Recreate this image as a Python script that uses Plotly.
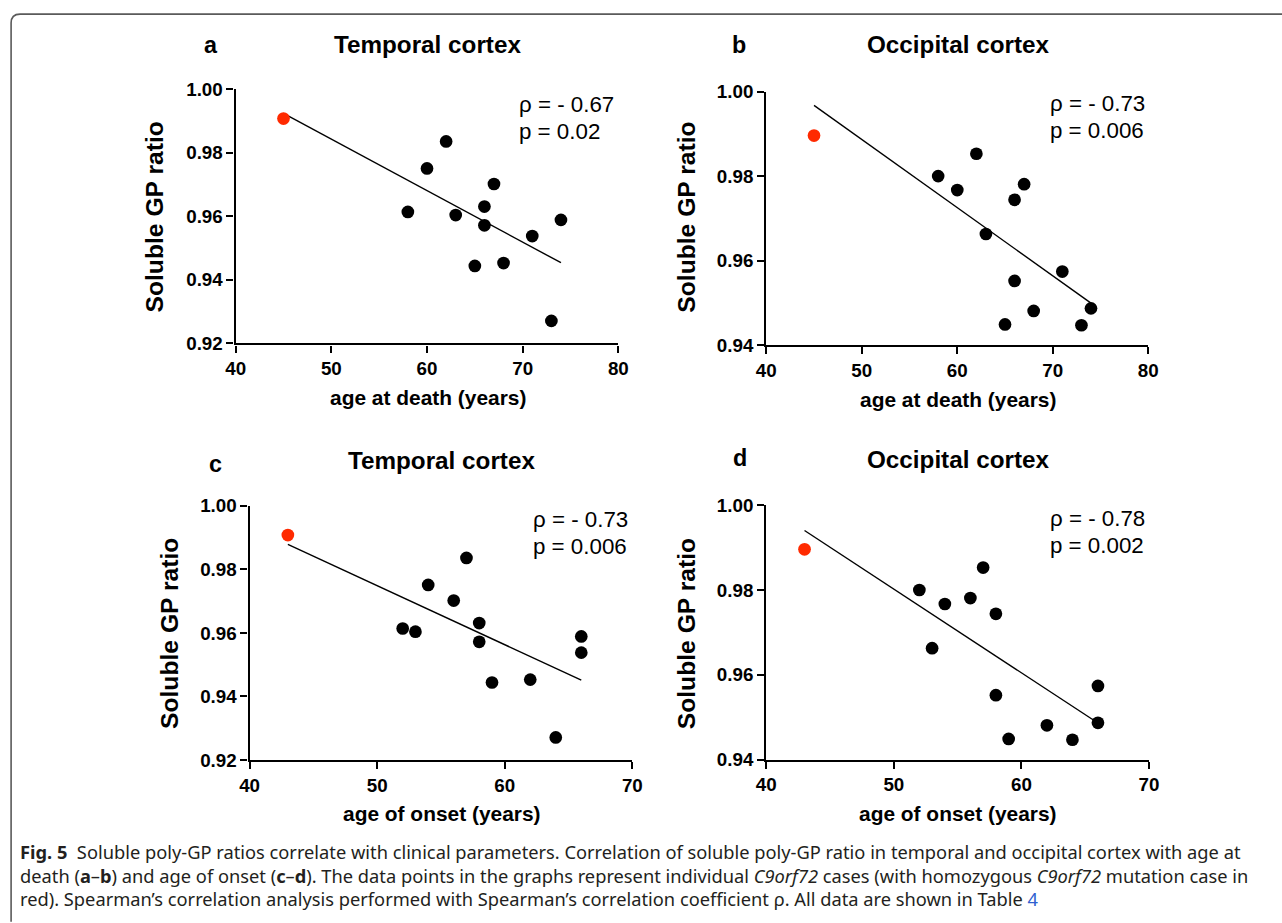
import numpy as np
import plotly.graph_objects as go

# ---------------- data ----------------
age_at_death = [45, 58, 60, 62, 63, 65, 66, 66, 67, 68, 71, 73, 74]
age_of_onset = [43, 52, 54, 57, 53, 59, 58, 58, 56, 62, 66, 64, 66]
temporal_ratio = [0.9908, 0.9614, 0.9751, 0.9836, 0.9604, 0.9444, 0.9631,
                  0.9572, 0.9702, 0.9453, 0.9538, 0.9271, 0.9589]
occipital_ratio = [0.9896, 0.9800, 0.9767, 0.9853, 0.9663, 0.9449, 0.9744,
                   0.9552, 0.9781, 0.9481, 0.9574, 0.9447, 0.9487]
homozygous = [True] + [False] * 12

panel_letters = ["a", "b", "c", "d"]
panel_titles = ["Temporal cortex", "Occipital cortex", "Temporal cortex", "Occipital cortex"]
x_titles = ["age at death (years)", "age at death (years)", "age of onset (years)", "age of onset (years)"]
rho_texts = ["ρ = - 0.67", "ρ = - 0.73", "ρ = - 0.73", "ρ = - 0.78"]
p_texts = ["p = 0.02", "p = 0.006", "p = 0.006", "p = 0.002"]
x_ticks = [[40, 50, 60, 70, 80], [40, 50, 60, 70, 80], [40, 50, 60, 70], [40, 50, 60, 70]]
y_ticks = [[0.92, 0.94, 0.96, 0.98, 1.00], [0.94, 0.96, 0.98, 1.00],
           [0.92, 0.94, 0.96, 0.98, 1.00], [0.94, 0.96, 0.98, 1.00]]

caption_lines = [
    "<b>Fig. 5</b>  Soluble poly-GP ratios correlate with clinical parameters. Correlation of soluble poly-GP ratio in temporal and occipital cortex with age at",
    "death (<b>a</b>–<b>b</b>) and age of onset (<b>c</b>–<b>d</b>). The data points in the graphs represent individual <i>C9orf72</i> cases (with homozygous <i>C9orf72</i> mutation case in",
    "red). Spearman’s correlation analysis performed with Spearman’s correlation coefficient ρ. All data are shown in Table <span style='color:#2f5fd0'>4</span>",
]

# ---------------- layout geometry ----------------
W, H = 1282, 923
# the photographed page shows the figure offset by the page margin and slightly
# reduced; target positions (in photo pixels) are mapped back to paper units.
OX, OY, SX, SY = 7.9, 7.9, 0.9877, 0.983
FS = 1 / 0.985   # font/marker compensation

panels = [
    dict(x=age_at_death, y=temporal_ratio, px=(234.3, 618.3), py=(87.7, 343.3)),
    dict(x=age_at_death, y=occipital_ratio, px=(766.7, 1150.0), py=(90.0, 345.0)),
    dict(x=age_of_onset, y=temporal_ratio, px=(248.3, 632.3), py=(506.7, 762.3)),
    dict(x=age_of_onset, y=occipital_ratio, px=(766.7, 1150.7), py=(506.0, 762.0)),
]
letter_pos = [(210, 43), (739, 43), (214, 465), (740, 459)]
title_pos = [(427, 43), (959, 43), (441, 461), (959, 460)]
ytitle_pos = [(153, 216), (687, 216), (168, 635), (687, 635)]
xtitle_pos = [(427, 398), (959, 400), (441, 816), (959, 816)]
stat_pos = [(517, 103), (1049, 102), (531, 520), (1049, 519)]


def px2x(v):
    return ((v - OX) / SX) / W


def py2y(v):
    return 1 - ((v - OY) / SY) / H


FONT = "Liberation Sans, Arial, sans-serif"
fig = go.Figure()
annotations = []

for i, p in enumerate(panels):
    sfx = "" if i == 0 else str(i + 1)
    xa, ya = "x" + sfx, "y" + sfx
    xs = np.array(p["x"], dtype=float)
    ys = np.array(p["y"], dtype=float)
    hom = np.array(homozygous)

    # regression line (computed from data)
    k, b = np.polyfit(xs, ys, 1)
    lx = np.array([xs.min(), xs.max()])
    fig.add_trace(go.Scatter(x=lx, y=k * lx + b, mode="lines", xaxis=xa, yaxis=ya,
                             line=dict(color="black", width=1.4), showlegend=False,
                             hoverinfo="skip", cliponaxis=False))
    fig.add_trace(go.Scatter(x=xs[~hom], y=ys[~hom], mode="markers", xaxis=xa, yaxis=ya,
                             marker=dict(color="black", size=12.5 * FS, line=dict(width=0)),
                             showlegend=False, cliponaxis=False))
    fig.add_trace(go.Scatter(x=xs[hom], y=ys[hom], mode="markers", xaxis=xa, yaxis=ya,
                             marker=dict(color="#ff2a00", size=12.5 * FS, line=dict(width=0)),
                             showlegend=False, cliponaxis=False))

    xt, yt = x_ticks[i], y_ticks[i]
    axis_common = dict(showline=True, linecolor="black", linewidth=2.3, ticks="outside",
                       ticklen=7, tickwidth=2.3, tickcolor="black", showgrid=False,
                       zeroline=False, fixedrange=True,
                       tickfont=dict(family=FONT, size=18.5 * FS, color="black", weight="bold"))
    fig.update_layout(**{
        "xaxis" + sfx: dict(domain=[px2x(p["px"][0]), px2x(p["px"][1])], range=[xt[0], xt[-1]],
                            tickvals=xt, anchor=ya, **axis_common),
        "yaxis" + sfx: dict(domain=[py2y(p["py"][1]), py2y(p["py"][0])], range=[yt[0], yt[-1]],
                            tickvals=yt, tickformat=".2f", anchor=xa, **axis_common),
    })

    lx_, ly_ = letter_pos[i]
    annotations.append(dict(x=px2x(lx_), y=py2y(ly_), xref="paper", yref="paper",
                            text="<b>%s</b>" % panel_letters[i], showarrow=False,
                            xanchor="center", yanchor="middle",
                            font=dict(family=FONT, size=23 * FS, color="black")))
    tx, ty = title_pos[i]
    annotations.append(dict(x=px2x(tx), y=py2y(ty), xref="paper", yref="paper",
                            text="<b>%s</b>" % panel_titles[i], showarrow=False,
                            xanchor="center", yanchor="middle",
                            font=dict(family=FONT, size=23.9 * FS, color="black")))
    yx, yy = ytitle_pos[i]
    annotations.append(dict(x=px2x(yx), y=py2y(yy), xref="paper", yref="paper",
                            text="<b>Soluble GP ratio</b>", showarrow=False, textangle=-90,
                            xanchor="center", yanchor="middle",
                            font=dict(family=FONT, size=24.3 * FS, color="black")))
    xx, xy = xtitle_pos[i]
    annotations.append(dict(x=px2x(xx), y=py2y(xy), xref="paper", yref="paper",
                            text="<b>%s</b>" % x_titles[i], showarrow=False,
                            xanchor="center", yanchor="middle",
                            font=dict(family=FONT, size=20.6 * FS, color="black")))
    sx, sy = stat_pos[i]
    annotations.append(dict(x=px2x(sx), y=py2y(sy), xref="paper", yref="paper",
                            text=rho_texts[i], showarrow=False,
                            xanchor="left", yanchor="middle",
                            font=dict(family=FONT, size=22 * FS, color="black")))
    annotations.append(dict(x=px2x(sx), y=py2y(sy + 27.5), xref="paper", yref="paper",
                            text=p_texts[i], showarrow=False,
                            xanchor="left", yanchor="middle",
                            font=dict(family=FONT, size=22 * FS, color="black")))

caption_y = [854, 878, 901.5]
for line, cy in zip(caption_lines, caption_y):
    annotations.append(dict(x=px2x(16), y=py2y(cy), xref="paper", yref="paper",
                            text=line, showarrow=False, xanchor="left", yanchor="middle",
                            font=dict(family="Noto Sans, Open Sans, sans-serif", size=18.0 * FS,
                                      color="#231f20")))

# rounded frame around the figure (decoration)
def P(x, y):
    return "%.5f,%.5f" % (px2x(x), py2y(y))

frame_path = ("M " + P(9, 925) + " L " + P(9, 21) + " Q " + P(9, 12) + " " + P(18, 12) +
              " L " + P(1300, 12))

fig.update_layout(
    width=W, height=H, margin=dict(l=0, r=0, t=0, b=0),
    paper_bgcolor="white", plot_bgcolor="white",
    annotations=annotations,
    shapes=[dict(type="path", path=frame_path, xref="paper", yref="paper",
                 line=dict(color="#5a5a5a", width=1.6))],
    showlegend=False,
)

fig.write_html("out.html")
